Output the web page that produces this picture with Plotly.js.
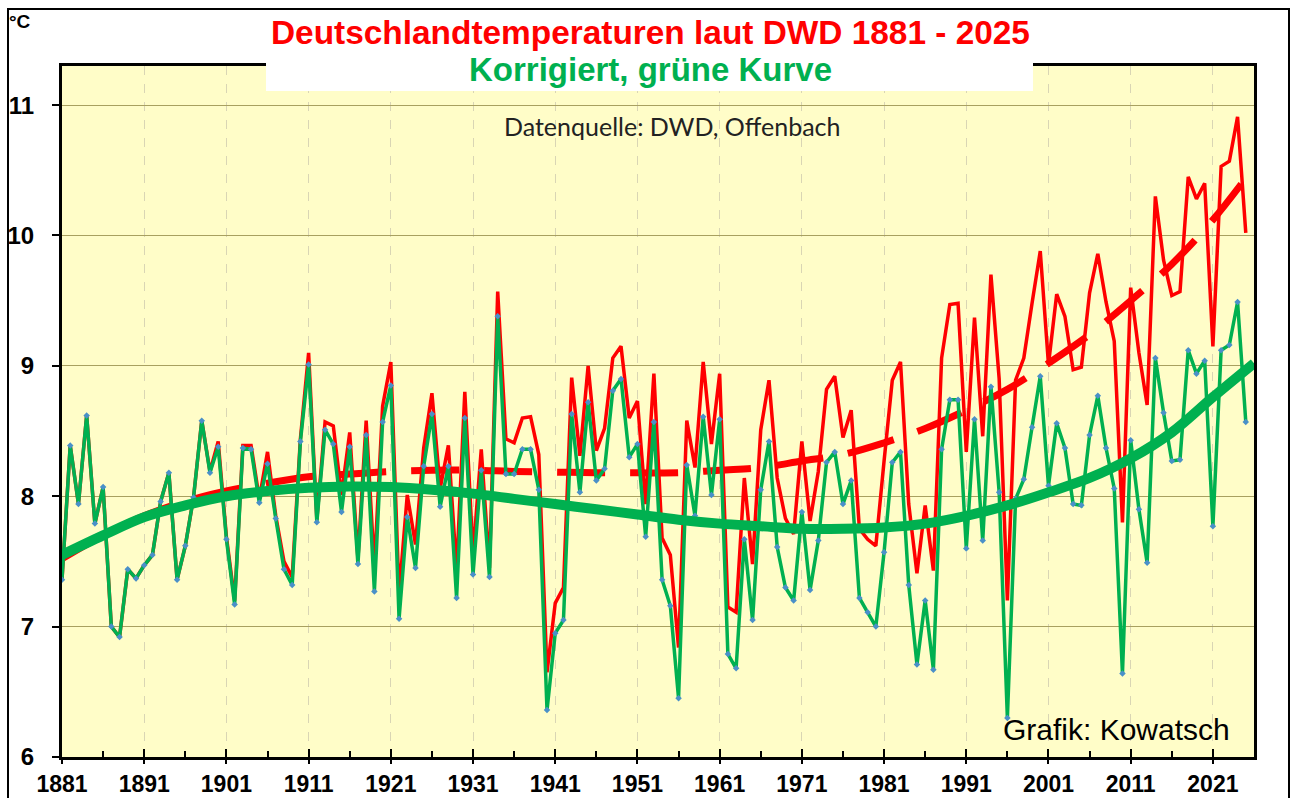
<!DOCTYPE html>
<html>
<head>
<meta charset="utf-8">
<script src="https://cdn.plot.ly/plotly-3.0.1.min.js"></script>
<style>
  html, body { margin: 0; padding: 0; background: #ffffff; }
  #chart { width: 1291px; height: 798px; }
</style>
</head>
<body>
<div id="chart"></div>
<script>
// ---------- data ----------
const years = [
  1881,1882,1883,1884,1885,1886,1887,1888,1889,1890,1891,1892,1893,1894,1895,1896,1897,1898,1899,1900,
  1901,1902,1903,1904,1905,1906,1907,1908,1909,1910,1911,1912,1913,1914,1915,1916,1917,1918,1919,1920,
  1921,1922,1923,1924,1925,1926,1927,1928,1929,1930,1931,1932,1933,1934,1935,1936,1937,1938,1939,1940,
  1941,1942,1943,1944,1945,1946,1947,1948,1949,1950,1951,1952,1953,1954,1955,1956,1957,1958,1959,1960,
  1961,1962,1963,1964,1965,1966,1967,1968,1969,1970,1971,1972,1973,1974,1975,1976,1977,1978,1979,1980,
  1981,1982,1983,1984,1985,1986,1987,1988,1989,1990,1991,1992,1993,1994,1995,1996,1997,1998,1999,2000,
  2001,2002,2003,2004,2005,2006,2007,2008,2009,2010,2011,2012,2013,2014,2015,2016,2017,2018,2019,2020,
  2021,2022,2023,2024,2025
];

// DWD annual mean (original, red)
const dwdOriginal = [
  7.36,8.39,7.94,8.62,7.79,8.07,7.00,6.92,7.44,7.37,7.47,7.55,7.96,8.18,7.36,7.62,7.99,8.58,8.19,8.42,
  7.69,7.20,8.39,8.39,7.98,8.34,7.85,7.50,7.38,8.44,9.10,7.82,8.57,8.54,8.01,8.49,7.52,8.58,7.45,8.69,
  9.03,7.25,8.01,7.63,8.37,8.79,8.06,8.39,7.43,8.80,7.55,8.36,7.45,9.57,8.44,8.41,8.60,8.61,8.32,6.65,
  7.18,7.30,8.91,8.31,9.00,8.35,8.52,9.06,9.15,8.60,8.73,7.94,8.94,7.68,7.55,6.84,8.58,8.22,9.03,8.40,
  8.94,7.15,7.11,8.14,7.48,8.51,8.89,8.14,7.83,7.71,8.42,7.81,8.19,8.82,8.92,8.45,8.66,7.75,7.67,7.62,
  8.27,8.89,9.03,7.94,7.41,7.93,7.43,9.06,9.47,9.48,8.34,9.37,8.46,9.70,8.90,7.20,8.89,9.06,9.48,9.88,
  9.01,9.55,9.38,8.97,8.99,9.56,9.86,9.49,9.19,7.80,9.60,9.10,8.70,10.30,9.81,9.54,9.57,10.45,10.28,10.40,
  9.15,10.53,10.57,10.91,10.02
];

// corrected series (green)
const corrected = [
  7.36,8.39,7.94,8.62,7.79,8.07,7.00,6.92,7.44,7.37,7.47,7.55,7.96,8.18,7.36,7.62,7.99,8.58,8.18,8.38,
  7.67,7.17,8.37,8.36,7.95,8.25,7.83,7.44,7.32,8.42,9.01,7.80,8.51,8.40,7.88,8.38,7.48,8.47,7.27,8.57,
  8.85,7.06,7.84,7.45,8.23,8.63,7.92,8.23,7.22,8.60,7.40,8.20,7.38,9.38,8.17,8.17,8.36,8.36,8.05,6.36,
  6.95,7.05,8.63,8.03,8.72,8.12,8.21,8.81,8.90,8.30,8.40,7.69,8.57,7.36,7.16,6.45,8.24,7.85,8.61,8.01,
  8.59,6.79,6.68,7.67,7.05,8.05,8.42,7.61,7.30,7.20,7.88,7.28,7.66,8.26,8.34,7.94,8.12,7.22,7.11,7.00,
  7.57,8.26,8.34,7.32,6.71,7.20,6.67,8.36,8.74,8.74,7.60,8.59,7.66,8.84,8.03,6.30,7.98,8.13,8.53,8.92,
  8.08,8.56,8.37,7.94,7.93,8.47,8.77,8.37,8.06,6.64,8.43,7.90,7.49,9.06,8.64,8.27,8.28,9.12,8.94,9.04,
  7.77,9.12,9.16,9.49,8.57
];

// trend curves (5-year samples)
const trendYearsRed = [1881,1886,1891,1896,1901,1906,1911,1916,1921,1926,1931,1936,1941,1946,1951,1956,1961,1966,1971,1976,1981,1986,1991,1996,2001,2006,2011,2016,2021,2025];
const trendRed = [7.52,7.70,7.85,7.96,8.04,8.10,8.15,8.17,8.19,8.20,8.20,8.19,8.185,8.18,8.18,8.18,8.20,8.22,8.27,8.32,8.41,8.52,8.66,8.82,9.02,9.24,9.50,9.78,10.12,10.44];

const trendYearsGreen = [1881,1886,1891,1896,1901,1906,1911,1916,1921,1926,1931,1936,1941,1946,1951,1956,1961,1966,1971,1976,1981,1986,1991,1996,2001,2006,2011,2016,2021,2026];
const trendGreen = [7.55,7.70,7.84,7.93,8.00,8.04,8.065,8.075,8.07,8.05,8.02,7.98,7.94,7.90,7.86,7.82,7.79,7.77,7.75,7.75,7.76,7.79,7.85,7.93,8.03,8.14,8.29,8.49,8.76,9.02];

const yTicks = [6,7,8,9,10,11];
const xTickStart = 1881, xTickStep = 10;

// ---------- styles ----------
const RED = '#FF0000';
const GREEN = '#00B050';
const ARIAL = 'Liberation Sans, Arial, sans-serif';

// pixel helpers for paper coordinates (plot area: x 62..1254, y 66..757)
const L = 62, R = 1254, T = 66, B = 757;
const px = v => (v - L) / (R - L);
const py = v => (B - v) / (B - T);

const traces = [
  { x: years, y: dwdOriginal, type: 'scatter', mode: 'lines',
    line: { color: RED, width: 3.5 }, hoverinfo: 'x+y', name: 'DWD' },
  { x: trendYearsRed, y: trendRed, type: 'scatter', mode: 'lines',
    line: { color: RED, width: 7, dash: '48px,25px', shape: 'spline', smoothing: 1 }, hoverinfo: 'skip', name: 'Trend DWD' },
  { x: years, y: corrected, type: 'scatter', mode: 'lines+markers',
    line: { color: GREEN, width: 3.5 },
    marker: { symbol: 'diamond', size: 5, color: '#4A90C8' }, hoverinfo: 'x+y', name: 'korrigiert' },
  { x: trendYearsGreen, y: trendGreen, type: 'scatter', mode: 'lines',
    line: { color: GREEN, width: 10, shape: 'spline', smoothing: 1 }, hoverinfo: 'skip', name: 'Trend korrigiert' },
  { x: [], y: [], xaxis: 'x2', yaxis: 'y', type: 'scatter', mode: 'lines', showlegend: false, hoverinfo: 'skip' }
];

const layout = {
  width: 1291, height: 798,
  margin: { l: L, r: 1291 - R, t: T, b: 798 - B, pad: 0 },
  paper_bgcolor: '#ffffff',
  plot_bgcolor: '#FFFDC8',
  showlegend: false,
  xaxis: {
    range: [1881, 2026],
    tickmode: 'linear', tick0: xTickStart, dtick: xTickStep,
    ticks: 'inside', ticklen: 8, tickwidth: 2, tickcolor: '#000',
    minor: { tickmode: 'linear', tick0: xTickStart, dtick: 5, ticks: 'inside', ticklen: 6, tickwidth: 2, tickcolor: '#000', showgrid: false },
    showline: true, linecolor: '#000', linewidth: 3, mirror: true,
    showgrid: true, gridcolor: '#D9D5B4', gridwidth: 1, griddash: 'dash',
    zeroline: false,
    tickfont: { family: ARIAL, size: 23, color: '#000', weight: 'bold' },
    ticklabelstandoff: 4
  },
  xaxis2: {
    overlaying: 'x', anchor: 'y', side: 'bottom',
    range: [1881, 2026],
    tickmode: 'linear', tick0: xTickStart, dtick: xTickStep,
    ticks: 'outside', ticklen: 6, tickwidth: 2, tickcolor: '#000',
    showticklabels: false, showgrid: false, showline: false, zeroline: false
  },
  yaxis: {
    range: [6, 11.3],
    tickmode: 'array', tickvals: yTicks, ticktext: yTicks.map(String),
    ticks: 'outside', ticklen: 7, tickwidth: 2, tickcolor: '#000',
    showline: true, linecolor: '#000', linewidth: 3, mirror: true,
    showgrid: true, gridcolor: '#A8A060', gridwidth: 1,
    zeroline: false,
    tickfont: { family: ARIAL, size: 24, color: '#000', weight: 'bold' },
    ticklabelstandoff: 13
  },
  shapes: [
    // outer frame
    { type: 'rect', xref: 'paper', yref: 'paper',
      x0: px(8), x1: px(1289), y0: py(805), y1: py(9),
      line: { color: '#000', width: 2 }, fillcolor: 'rgba(0,0,0,0)', layer: 'below' },
    // white title box
    { type: 'rect', xref: 'paper', yref: 'paper',
      x0: px(266), x1: px(1033), y0: py(91), y1: py(10),
      line: { width: 0 }, fillcolor: '#ffffff', layer: 'above' }
  ],
  annotations: [
    { xref: 'paper', yref: 'paper', x: px(650), y: py(32), xanchor: 'center', yanchor: 'middle', showarrow: false,
      text: 'Deutschlandtemperaturen laut DWD 1881 - 2025',
      font: { family: ARIAL, size: 33.4, color: RED, weight: 'bold' } },
    { xref: 'paper', yref: 'paper', x: px(650), y: py(69), xanchor: 'center', yanchor: 'middle', showarrow: false,
      text: 'Korrigiert, grüne Kurve',
      font: { family: ARIAL, size: 33, color: GREEN, weight: 'bold' } },
    { xref: 'paper', yref: 'paper', x: px(20), y: py(21), xanchor: 'center', yanchor: 'middle', showarrow: false,
      text: '°C',
      font: { family: ARIAL, size: 19, color: '#000', weight: 'bold' } },
    { xref: 'paper', yref: 'paper', x: px(672), y: py(126), xanchor: 'center', yanchor: 'middle', showarrow: false,
      text: 'Datenquelle: DWD, Offenbach',
      font: { family: 'Lato, Open Sans, sans-serif', size: 25, color: '#222' } },
    { xref: 'paper', yref: 'paper', x: px(1232), y: py(729), xanchor: 'right', yanchor: 'middle', showarrow: false,
      text: 'Grafik: Kowatsch',
      font: { family: ARIAL, size: 30, color: '#000' } }
  ]
};

Plotly.newPlot('chart', traces, layout, { displayModeBar: false, staticPlot: true });
</script>
</body>
</html>
